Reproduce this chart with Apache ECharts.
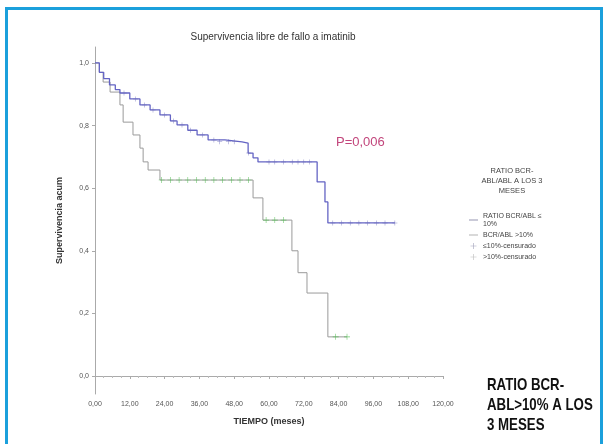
<!DOCTYPE html>
<html>
<head>
<meta charset="utf-8">
<script src="https://cdn.jsdelivr.net/npm/echarts@6/dist/echarts.min.js"></script>
<style>html,body{margin:0;padding:0;background:#fff;}#c{width:608px;height:444px;}</style>
</head>
<body>
<div id="c"></div>
<script>
var xTicks = [0, 12, 24, 36, 48, 60, 72, 84, 96, 108, 120];
var yTicks = [0, 0.2, 0.4, 0.6, 0.8, 1.0];

var lowMonths = [0, 1.5, 3, 5, 7, 8.6, 12, 15.5, 19, 22.4, 26, 28.3, 32, 35.2, 39, 44.8, 50.7, 52.8, 54.5, 56.2, 76.6, 79.3, 80.3, 103.4];
var lowSurv   = [1.0, 0.97, 0.95, 0.93, 0.915, 0.904, 0.885, 0.866, 0.85, 0.834, 0.815, 0.802, 0.785, 0.77, 0.754, 0.748, 0.744, 0.712, 0.697, 0.684, 0.62, 0.556, 0.489, 0.489];

var highMonths = [0, 1.5, 2.8, 5.2, 8.6, 9.7, 13.1, 15.5, 16.6, 18.3, 22.4, 54.5, 57.9, 67.9, 70, 73.1, 80.3, 86.9];
var highSurv   = [1.0, 0.97, 0.939, 0.907, 0.866, 0.811, 0.77, 0.728, 0.684, 0.658, 0.626, 0.569, 0.498, 0.40, 0.33, 0.265, 0.125, 0.125];

var lowCensMonths = [10, 14, 17, 20, 24, 27, 30, 33, 37, 41, 43, 46, 48, 53, 60, 62, 65, 68, 70, 72, 74, 82, 85, 88, 91, 94, 97, 100, 103.4];
var lowCensSurv   = [0.904, 0.885, 0.866, 0.85, 0.834, 0.815, 0.802, 0.785, 0.77, 0.754, 0.748, 0.748, 0.748, 0.712, 0.684, 0.684, 0.684, 0.684, 0.684, 0.684, 0.684, 0.489, 0.489, 0.489, 0.489, 0.489, 0.489, 0.489, 0.489];

var highCensMonths = [23, 26, 29, 32, 35, 38, 41, 44, 47, 50, 53, 59, 62, 65, 83, 86.9];
var highCensSurv   = [0.626, 0.626, 0.626, 0.626, 0.626, 0.626, 0.626, 0.626, 0.626, 0.626, 0.626, 0.498, 0.498, 0.498, 0.125, 0.125];

var seriesNames = ['RATIO BCR/ABL ≤\n10%', 'BCR/ABL >10%', '≤10%-censurado', '>10%-censurado'];

function pairs(a, b) { return a.map(function (v, i) { return [v, b[i]]; }); }

var lineIcon = 'path://M0,4.5H10V5.5H0Z';
var crossIcon = 'path://M4.5,0H5.5V10H4.5ZM0,4.5H10V5.5H0Z';
var FONT = 'Liberation Sans, Arial, sans-serif';

var chart = echarts.init(document.getElementById('c'), null, {renderer: 'canvas'});
chart.setOption({
  animation: false,
  backgroundColor: '#ffffff',
  title: {
    text: 'Supervivencia libre de fallo a imatinib',
    left: 268, top: 27, textAlign: 'center',
    textStyle: {fontSize: 10, fontWeight: 'normal', color: '#333', fontFamily: FONT}
  },
  grid: {left: 95, right: 165, top: 47, bottom: 50},
  xAxis: {
    type: 'value', min: 0, max: 120, interval: 12,
    name: 'TIEMPO (meses)', nameLocation: 'middle', nameGap: 23,
    nameTextStyle: {fontSize: 9, fontWeight: 'bold', color: '#333', fontFamily: FONT},
    axisLine: {show: true, lineStyle: {color: '#aaa', width: 1}},
    axisTick: {show: true, length: 3, lineStyle: {color: '#aaa'}},
    minorTick: {show: true, splitNumber: 4, length: 2, lineStyle: {color: '#bbb'}},
    axisLabel: {
      customValues: xTicks, fontSize: 7, color: '#555', margin: 7, fontFamily: FONT,
      formatter: function (v) { return v.toFixed(2).replace('.', ','); }
    },
    splitLine: {show: false}
  },
  yAxis: {
    type: 'value', min: -0.0575, max: 1.051,
    name: 'Supervivencia acum', nameLocation: 'middle', nameGap: 31,
    nameTextStyle: {fontSize: 9, fontWeight: 'bold', color: '#333', fontFamily: FONT},
    axisLine: {show: true, lineStyle: {color: '#aaa', width: 1}},
    axisTick: {show: true, customValues: yTicks, length: 3, lineStyle: {color: '#aaa'}},
    axisLabel: {
      customValues: yTicks, fontSize: 7, color: '#555', margin: 6, fontFamily: FONT,
      formatter: function (v) { return v.toFixed(1).replace('.', ','); }
    },
    splitLine: {show: false}
  },
  legend: {
    orient: 'vertical', left: 464, top: 207, itemGap: 3,
    itemWidth: 9, itemHeight: 6,
    textStyle: {fontSize: 7, color: '#444', fontFamily: FONT, lineHeight: 8},
    data: [
      {name: seriesNames[0], icon: lineIcon, itemStyle: {color: '#8888a8'}},
      {name: seriesNames[1], icon: lineIcon, itemStyle: {color: '#aaaaaa'}},
      {name: seriesNames[2], icon: crossIcon, itemStyle: {color: '#8888a8'}},
      {name: seriesNames[3], icon: crossIcon, itemStyle: {color: '#aaaaaa'}}
    ]
  },
  series: [
    {
      name: seriesNames[0], type: 'line', step: 'end', showSymbol: false,
      data: pairs(lowMonths, lowSurv),
      lineStyle: {color: '#6464c4', width: 1.3}, itemStyle: {color: '#6464c4'}, z: 3
    },
    {
      name: seriesNames[1], type: 'line', step: 'end', showSymbol: false,
      data: pairs(highMonths, highSurv),
      lineStyle: {color: '#9a9a9a', width: 1}, itemStyle: {color: '#9a9a9a'}, z: 2
    },
    {
      name: seriesNames[2], type: 'scatter', symbol: crossIcon, symbolSize: 5,
      data: pairs(lowCensMonths, lowCensSurv),
      itemStyle: {color: '#6a6ab8'}, z: 4
    },
    {
      name: seriesNames[3], type: 'scatter', symbol: crossIcon, symbolSize: 6,
      data: pairs(highCensMonths, highCensSurv),
      itemStyle: {color: '#4cbb4c'}, z: 4
    }
  ],
  graphic: [
    {type: 'rect', shape: {x: 6.5, y: 8.5, width: 595, height: 440},
     style: {fill: 'none', stroke: '#1ba0dc', lineWidth: 3}, silent: true},
    {type: 'text', left: 336, top: 136,
     style: {text: 'P=0,006', fontSize: 13, fill: '#c2467c', fontFamily: FONT}},
    {type: 'text', x: 512, y: 166,
     style: {text: 'RATIO BCR-\nABL/ABL A LOS 3\nMESES', fontSize: 7.5, fill: '#444', align: 'center',
             lineHeight: 10, fontFamily: FONT}},
    {type: 'text', x: 487, y: 375, scaleX: 0.78, scaleY: 1,
     style: {text: 'RATIO BCR-\nABL>10% A LOS\n3 MESES', fontSize: 17, fontWeight: 'bold', fill: '#111',
             lineHeight: 20, verticalAlign: 'top', fontFamily: FONT}}
  ]
});
</script>
</body>
</html>
